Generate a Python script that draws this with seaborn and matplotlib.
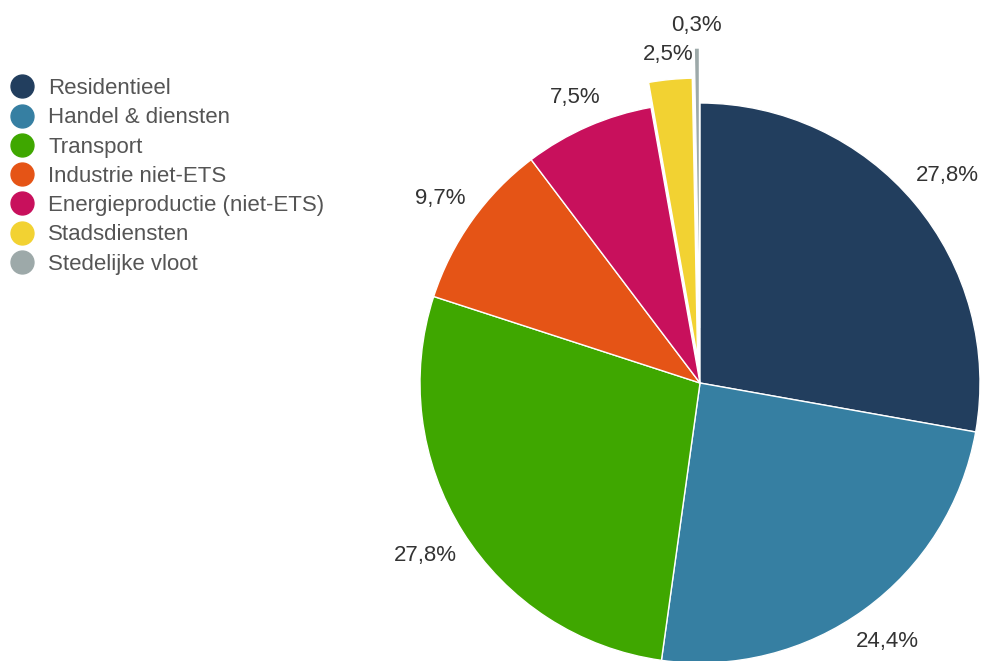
import numpy as np
import matplotlib
matplotlib.use("Agg")
import matplotlib.pyplot as plt
from matplotlib.lines import Line2D
import seaborn as sns

categories = ["Residentieel", "Handel & diensten", "Transport", "Industrie niet-ETS",
              "Energieproductie (niet-ETS)", "Stadsdiensten", "Stedelijke vloot"]
shares = [27.8, 24.4, 27.8, 9.7, 7.5, 2.5, 0.3]
hex_colors = ["#223E5E", "#367FA2", "#3FA700", "#E55416", "#C8105C", "#F2D232", "#9DA9A9"]
# outward shift of the pulled-out slices, in pixels
explode_px = [0, 0, 0, 0, 0, 25, 55]

sns.set_theme(style="white")
plt.rcParams["font.family"] = ["Liberation Sans", "DejaVu Sans"]
palette = sns.color_palette(hex_colors)

W, H = 991, 661
fig = plt.figure(figsize=(W / 100, H / 100), dpi=100)
ax = fig.add_axes([0, 0, 1, 1])
ax.set_xlim(0, W)
ax.set_ylim(0, H)

cx, cy, R = 700, H - 383, 280
wedges, _ = ax.pie(shares, colors=palette, startangle=90, counterclock=False,
                   explode=explode_px, radius=R, center=(cx, cy),
                   wedgeprops=dict(edgecolor="white", linewidth=1.0),
                   frame=True)
ax.set_xlim(0, W)
ax.set_ylim(0, H)
ax.set_aspect("equal")
ax.axis("off")

# percentage labels: box edge kept a small gap outside each slice
renderer = fig.canvas.get_renderer()
gap = 12
for w, v in zip(wedges, shares):
    mid = np.deg2rad((w.theta1 + w.theta2) / 2)
    ux, uy = np.cos(mid), np.sin(mid)
    t = ax.text(0, 0, f"{v:.1f}".replace(".", ",") + "%", ha="center", va="center",
                fontsize=16, color="#333333")
    bb = t.get_window_extent(renderer)
    half = 0.5 * bb.width * abs(ux) + 0.5 * bb.height * abs(uy)
    d = w.r + gap + half
    x0, y0 = w.center
    t.set_position((x0 + d * ux, y0 + d * uy))

handles = [Line2D([0], [0], marker="o", linestyle="", markersize=16.5,
                  markerfacecolor=c, markeredgecolor=c) for c in palette]
leg = ax.legend(handles, categories, loc="upper left", bbox_to_anchor=(0.007, 0.885),
                bbox_transform=fig.transFigure, frameon=False, fontsize=16,
                labelspacing=0.37, handletextpad=0.55, handlelength=1.2,
                borderaxespad=0, borderpad=0.1)
for t in leg.get_texts():
    t.set_color("#555555")

fig.savefig("out.png", dpi=100)
